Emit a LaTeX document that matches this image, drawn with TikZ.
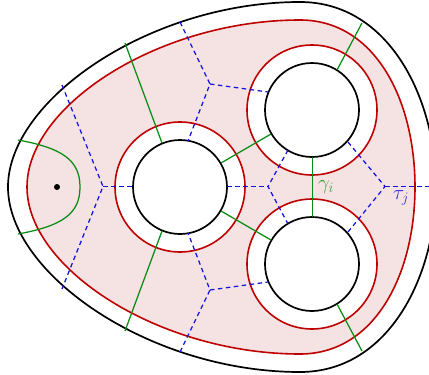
\documentclass[tikz,border=0pt]{standalone}
\definecolor{myred}{RGB}{190,0,0}
\definecolor{mypink}{RGB}{245,226,226}
\definecolor{mygreen}{RGB}{10,140,20}
\definecolor{mygreenlab}{RGB}{60,160,60}
\definecolor{myblue}{RGB}{20,20,225}
\definecolor{mybluelab}{RGB}{50,50,215}
\begin{document}
\begin{tikzpicture}[x=1pt,y=-1pt,
  blk/.style={draw=black,line width=1.7pt},
  redl/.style={draw=myred,line width=1.6pt},
  grn/.style={draw=mygreen,line width=1.25pt},
  blu/.style={draw=myblue,line width=1.25pt,dash pattern=on 4.5pt off 3.5pt},
  lab/.style={font=\fontsize{20}{24}\selectfont,inner sep=0pt}]
\useasboundingbox (0,0) rectangle (429,375);
\clip (0,0) rectangle (429,375);
% centres
\coordinate (C1) at (180,187);
\coordinate (C2) at (312,110);
\coordinate (C3) at (312,264);
% pink region
\fill[mypink,even odd rule]
  (27,187) .. controls (27,105) and (160,20) .. (300,20)
  .. controls (375,20) and (415,100) .. (415,187)
  .. controls (415,274) and (375,354) .. (300,354)
  .. controls (160,354) and (27,269) .. (27,187) -- cycle
  (C1) circle (65pt) (C2) circle (65pt) (C3) circle (65pt);
% red curves
\draw[redl]
  (27,187) .. controls (27,105) and (160,20) .. (300,20)
  .. controls (375,20) and (415,100) .. (415,187)
  .. controls (415,274) and (375,354) .. (300,354)
  .. controls (160,354) and (27,269) .. (27,187) -- cycle;
\draw[redl] (C1) circle (65pt) (C2) circle (65pt) (C3) circle (65pt);
% outer black boundary
\draw[blk]
  (8,187) .. controls (8,100) and (150,2) .. (300,2)
  .. controls (390,2) and (436,100) .. (436,187)
  .. controls (436,274) and (390,372) .. (300,372)
  .. controls (150,372) and (8,274) .. (8,187) -- cycle;
% holes
\draw[blk] (C1) circle (47pt) (C2) circle (47pt) (C3) circle (47pt);
% green arcs
\coordinate (g1a) at (18,140);
\coordinate (g1b) at (80,187);
\coordinate (g1c) at (18,234);
\draw[grn] (g1a) .. controls (62,148) and (80,160) .. (g1b)
  .. controls (80,214) and (62,226) .. (g1c);
\coordinate (g2a) at (125,43);  \coordinate (g2b) at (162,143);
\coordinate (g3a) at (125,331); \coordinate (g3b) at (162,231);
\coordinate (g4a) at (221,163); \coordinate (g4b) at (271,134);
\coordinate (g5a) at (221,211); \coordinate (g5b) at (271,240);
\coordinate (g6a) at (312.5,157); \coordinate (g6b) at (312.5,217);
\coordinate (g7a) at (337,70);  \coordinate (g7b) at (362,23);
\coordinate (g8a) at (337,304); \coordinate (g8b) at (362,351);
\draw[grn] (g2a) -- (g2b);
\draw[grn] (g3a) -- (g3b);
\draw[grn] (g4a) -- (g4b);
\draw[grn] (g5a) -- (g5b);
\draw[grn] (g6a) -- (g6b);
\draw[grn] (g7a) -- (g7b);
\draw[grn] (g8a) -- (g8b);
% blue dashed
\coordinate (b1) at (62,85);   \coordinate (v1) at (103,186.5);
\coordinate (b2) at (62,289);  \coordinate (b3) at (133,186.5);
\draw[blu] (b1) -- (v1) -- (b2);
\draw[blu] (v1) -- (b3);
\coordinate (b4) at (180,22);  \coordinate (v2) at (210,84);
\coordinate (b5) at (188,141); \coordinate (b6) at (268,92);
\draw[blu] (b4) -- (v2) -- (b5);
\draw[blu] (v2) -- (b6);
\coordinate (b7) at (180,352); \coordinate (v3) at (210,290);
\coordinate (b8) at (188,233); \coordinate (b9) at (268,282);
\draw[blu] (b7) -- (v3) -- (b8);
\draw[blu] (v3) -- (b9);
\coordinate (b10) at (227,186.5); \coordinate (v4) at (268,186.5);
\coordinate (b11) at (288,150); \coordinate (b12) at (288,224);
\draw[blu] (b10) -- (v4);
\draw[blu] (b11) -- (v4) -- (b12);
\coordinate (b13) at (348,142); \coordinate (v5) at (385,186.5);
\coordinate (b14) at (348,232); \coordinate (b15) at (432,186.5);
\draw[blu] (b13) -- (v5) -- (b14);
\draw[blu] (v5) -- (b15);
% dot
\fill (57,187) circle (3pt);
% labels
\node[lab,text=mygreenlab] (gam) at (326,187) {$\gamma_i$};
\node[lab,text=mybluelab] (tau) at (401,198) {$\tau_j$};
\end{tikzpicture}
\end{document}
